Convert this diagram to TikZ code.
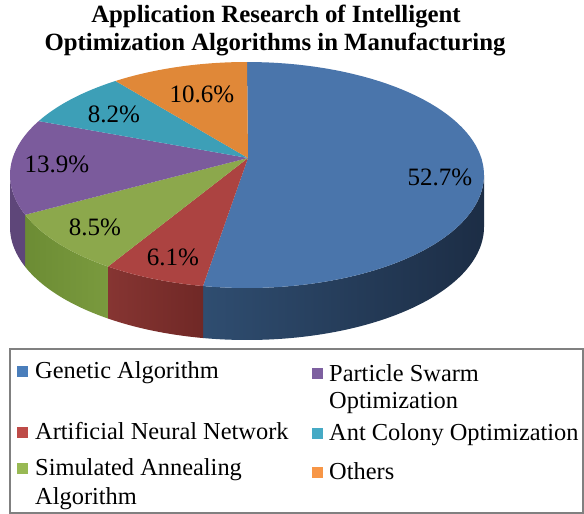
\documentclass[tikz,border=0pt]{standalone}
\usepackage{fontspec}
\setmainfont{Liberation Serif}

% pie geometry (top face ellipse, apex of the slices, side depth)
\def\pcx{247}\def\pcy{175}\def\prx{237}\def\pry{113}\def\pdep{52}

% top face of a slice: #1 style, #2 start angle, #3 end angle
\newcommand\pietop[3]{%
  \path[#1] (apex) -- plot[domain=#2:#3,samples=80]
    ({\pcx+\prx*cos(\x)},{\pcy+\pry*sin(\x)}) -- cycle;}
% front wall of a slice
\newcommand\pieside[3]{%
  \path[#1] plot[domain=#2:#3,samples=80]
    ({\pcx+\prx*cos(\x)},{\pcy+\pry*sin(\x)}) --
    plot[domain=#3:#2,samples=80]
    ({\pcx+\prx*cos(\x)},{\pcy+\pdep+\pry*sin(\x)}) -- cycle;}

\definecolor{topBlue}{HTML}{4A75AB}
\definecolor{topRed}{HTML}{AC4341}
\definecolor{topGreen}{HTML}{8CA84C}
\definecolor{topPurple}{HTML}{7B5B9C}
\definecolor{topCyan}{HTML}{3D9FB7}
\definecolor{topOrange}{HTML}{E08838}
\definecolor{wallBlueL}{HTML}{2F4D70}
\definecolor{wallBlueR}{HTML}{1C2D45}
\definecolor{wallRedL}{HTML}{863532}
\definecolor{wallRedR}{HTML}{702826}
\definecolor{wallGreenL}{HTML}{6C8C34}
\definecolor{wallGreenR}{HTML}{7A9A3E}
\definecolor{wallPurple}{HTML}{5E4679}
\definecolor{keyBlue}{HTML}{4A7EBB}
\definecolor{keyRed}{HTML}{BE4B48}
\definecolor{keyGreen}{HTML}{98B954}
\definecolor{keyPurple}{HTML}{7D60A0}
\definecolor{keyCyan}{HTML}{46AAC5}
\definecolor{keyOrange}{HTML}{F79646}
\definecolor{frameGray}{HTML}{808080}

\begin{document}
\begin{tikzpicture}[x=1pt,y=-1pt,
  pct/.style={inner sep=0pt,anchor=base,font=\fontsize{25}{27}\selectfont},
  keytext/.style={inner sep=0pt,anchor=base west,font=\fontsize{24.4}{27}\selectfont},
  keybox/.style={minimum size=11pt,inner sep=0pt,anchor=south west},
  titletext/.style={inner sep=0pt,anchor=base,font=\bfseries\fontsize{24.8}{27}\selectfont}]
\useasboundingbox (0,0) rectangle (584,514);
\fill[white] (0,0) rectangle (584,514);
\coordinate (apex) at (248,158);

% title
\node[titletext] (t1) at (276,23) {Application Research of Intelligent};
\node[titletext] (t2) at (275,50) {Optimization Algorithms in Manufacturing};

% front walls
\pieside{shade,left color=wallBlueL,right color=wallBlueR}{0}{100.7}
\pieside{shade,left color=wallRedL,right color=wallRedR}{100.7}{125.9}
\pieside{shade,left color=wallGreenL,right color=wallGreenR}{125.9}{159.4}
\pieside{fill=wallPurple}{159.4}{180}

% top faces
\pietop{fill=topBlue}{-90}{100.7}
\pietop{fill=topRed}{100.7}{125.9}
\pietop{fill=topGreen}{125.9}{159.4}
\pietop{fill=topPurple}{159.4}{208.5}
\pietop{fill=topCyan}{208.5}{236.3}
\pietop{fill=topOrange}{236.3}{270}

% data labels
\node[pct] (pGA)  at (440,185) {52.7\%};
\node[pct] (pOth) at (202,102) {10.6\%};
\node[pct] (pACO) at (114,122) {8.2\%};
\node[pct] (pPSO) at (57,172)  {13.9\%};
\node[pct] (pSA)  at (95,235)  {8.5\%};
\node[pct] (pANN) at (173,265) {6.1\%};

% legend
\draw[line width=1.5pt,draw=frameGray] (10,349) rectangle (583,513);
\node[keybox,fill=keyBlue]   (kGA)  at (17,377) {};
\node[keytext] (lGA) at (35,378) {Genetic Algorithm};
\node[keybox,fill=keyRed]    (kANN) at (17,438) {};
\node[keytext] (lANN) at (35,439) {Artificial Neural Network};
\node[keybox,fill=keyGreen]  (kSA)  at (17,474) {};
\node[keytext] (lSA1) at (35,475) {Simulated Annealing};
\node[keytext] (lSA2) at (35,504) {Algorithm};
\node[keybox,fill=keyPurple] (kPSO) at (312,379) {};
\node[keytext] (lPSO1) at (329,381) {Particle Swarm};
\node[keytext] (lPSO2) at (329,408) {Optimization};
\node[keybox,fill=keyCyan]   (kACO) at (312,439) {};
\node[keytext] (lACO) at (329,440) {Ant Colony Optimization};
\node[keybox,fill=keyOrange] (kOth) at (312,478) {};
\node[keytext] (lOth) at (329,479) {Others};
\end{tikzpicture}
\end{document}
